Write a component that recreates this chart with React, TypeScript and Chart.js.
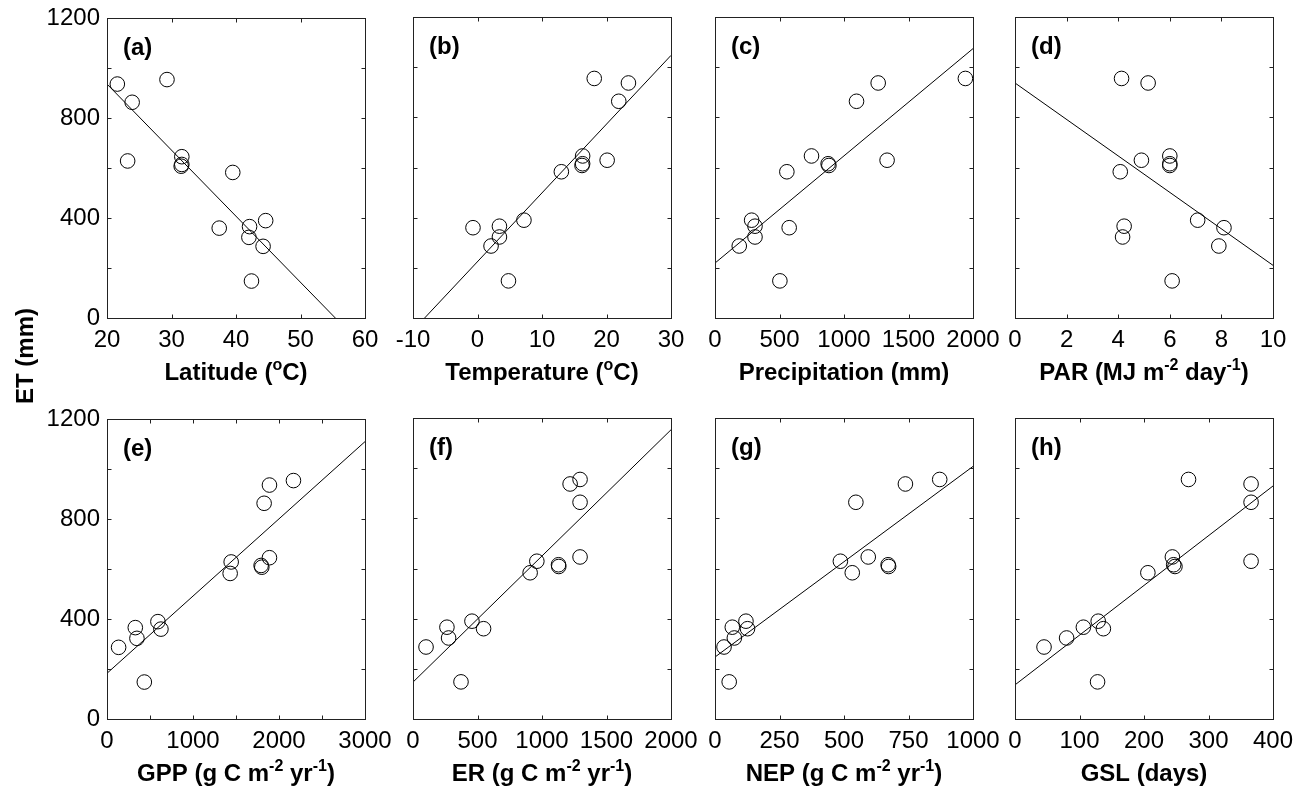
import React, { useEffect, useRef } from "react";
import { Chart, registerables } from "chart.js";

Chart.register(...registerables);

const FONT = '"Liberation Sans", Arial, Helvetica, sans-serif';
Chart.defaults.font.family = FONT;

// ---- data (one value per site; ET shared by all panels) ----
const ET = [955, 937, 864, 646, 629, 615, 608, 583, 390, 366, 360, 323, 287, 148];
const latitude = [29.3, 21.6, 23.9, 31.6, 23.2, 31.6, 31.5, 39.5, 44.6, 42.1, 37.4, 42.0, 44.2, 42.4];
const temperature = [18.1, 23.4, 21.9, 16.3, 20.1, 16.3, 16.2, 13.0, 7.2, 3.4, -0.7, 3.4, 2.1, 4.8];
const precipitation = [1941, 1265, 1097, 748, 1334, 877, 883, 557, 284, 310, 575, 310, 188, 503];
const par = [4.13, 5.16, null, 6.0, 4.9, 6.0, 6.0, 4.08, 7.08, 4.23, 8.1, 4.17, 7.9, 6.09];
const gpp = [2168, 1889, 1827, 1889, 1444, 1792, 1800, 1432, 592, 329, 627, 348, 135, 434];
const er = [1295, 1218, 1295, 1295, 960, 1128, 1130, 908, 457, 263, 547, 276, 101, 372];
const nep = [871, 738, 546, 594, 486, 671, 673, 532, 120, 67, 126, 75, 35, 55];
const gsl = [269, 366, 366, 244, 366, 246, 248, 206, 129, 106, 137, 80, 45, 128];

// regression line end points: [x0, x1], [y0, y1]
const lineLatX = [20, 55.4];
const lineLatY = [937, 0];
const lineTempX = [-8.2, 30];
const lineTempY = [0, 1047];
const linePrecX = [0, 2000];
const linePrecY = [219, 1074];
const lineParX = [0, 10];
const lineParY = [937, 210];
const lineGppX = [0, 3000];
const lineGppY = [183, 1111];
const lineErX = [0, 2000];
const lineErY = [147, 1153];
const lineNepX = [0, 1000];
const lineNepY = [247, 1007];
const lineGslX = [0, 400];
const lineGslY = [136, 929];

// axis ranges / ticks
const yMin = 0;
const yMax = 1200;
const yStep = 200;
const yLabelStep = 400;

type Seg = [string, number];

interface PanelDef {
  tag: string;
  xs: (number | null)[];
  lx: number[];
  ly: number[];
  min: number;
  max: number;
  step: number;
  labelStep: number;
  title: Seg[];
  col: number;
  row: number;
}

const panels: PanelDef[] = [
  { tag: "(a)", xs: latitude, lx: lineLatX, ly: lineLatY, min: 20, max: 60, step: 10, labelStep: 10, title: [["Latitude (", 0], ["o", 1], ["C)", 0]], col: 0, row: 0 },
  { tag: "(b)", xs: temperature, lx: lineTempX, ly: lineTempY, min: -10, max: 30, step: 10, labelStep: 10, title: [["Temperature (", 0], ["o", 1], ["C)", 0]], col: 1, row: 0 },
  { tag: "(c)", xs: precipitation, lx: linePrecX, ly: linePrecY, min: 0, max: 2000, step: 500, labelStep: 500, title: [["Precipitation (mm)", 0]], col: 2, row: 0 },
  { tag: "(d)", xs: par, lx: lineParX, ly: lineParY, min: 0, max: 10, step: 2, labelStep: 2, title: [["PAR (MJ m", 0], ["-2", 1], [" day", 0], ["-1", 1], [")", 0]], col: 3, row: 0 },
  { tag: "(e)", xs: gpp, lx: lineGppX, ly: lineGppY, min: 0, max: 3000, step: 500, labelStep: 1000, title: [["GPP (g C m", 0], ["-2", 1], [" yr", 0], ["-1", 1], [")", 0]], col: 0, row: 1 },
  { tag: "(f)", xs: er, lx: lineErX, ly: lineErY, min: 0, max: 2000, step: 500, labelStep: 500, title: [["ER (g C m", 0], ["-2", 1], [" yr", 0], ["-1", 1], [")", 0]], col: 1, row: 1 },
  { tag: "(g)", xs: nep, lx: lineNepX, ly: lineNepY, min: 0, max: 1000, step: 250, labelStep: 250, title: [["NEP (g C m", 0], ["-2", 1], [" yr", 0], ["-1", 1], [")", 0]], col: 2, row: 1 },
  { tag: "(h)", xs: gsl, lx: lineGslX, ly: lineGslY, min: 0, max: 400, step: 100, labelStep: 100, title: [["GSL (days)", 0]], col: 3, row: 1 },
];

// layout
const COL_LEFT = [107, 413, 715, 1015];
const ROW_TOP = [17, 418];
const PLOT_W = 258;
const PLOT_H = 301;
const PAD_L = 80;
const PAD_T = 20;
const PAD_R = 40;
const PAD_B = 80;
const CW = PAD_L + PLOT_W + PAD_R;
const CH = PAD_T + PLOT_H + PAD_B;

const isMultiple = (v: number, s: number) => Math.abs(v / s - Math.round(v / s)) < 1e-9;

const framePlugin = {
  id: "frame",
  afterDraw(chart: any, _args: any, opts: any) {
    const { ctx, chartArea: a, scales } = chart;
    const L = Math.round(a.left) + 0.5;
    const R = Math.round(a.right) + 0.5;
    const T = Math.round(a.top) + 0.5;
    const B = Math.round(a.bottom) + 0.5;
    ctx.save();
    ctx.strokeStyle = "#222";
    ctx.lineWidth = 1;
    ctx.strokeRect(L, T, R - L, B - T);
    const tl = 4;
    ctx.beginPath();
    for (const t of scales.x.ticks) {
      const px = Math.round(scales.x.getPixelForValue(t.value)) + 0.5;
      if (px <= L + 1 || px >= R - 1) continue;
      ctx.moveTo(px, B);
      ctx.lineTo(px, B - tl);
      ctx.moveTo(px, T);
      ctx.lineTo(px, T + tl);
    }
    for (const t of scales.y.ticks) {
      const py = Math.round(scales.y.getPixelForValue(t.value)) + 0.5;
      if (py <= T + 1 || py >= B - 1) continue;
      ctx.moveTo(L, py);
      ctx.lineTo(L + tl, py);
      ctx.moveTo(R, py);
      ctx.lineTo(R - tl, py);
    }
    ctx.stroke();

    // panel tag
    ctx.fillStyle = "#000";
    ctx.font = `bold 24px ${FONT}`;
    ctx.textAlign = "left";
    ctx.textBaseline = "alphabetic";
    ctx.fillText(opts.tag, a.left + 16, a.top + 37);

    // x title with superscripts
    const segs: Seg[] = opts.title;
    const big = `bold 24px ${FONT}`;
    const small = `bold 16px ${FONT}`;
    let total = 0;
    for (const [s, sup] of segs) {
      ctx.font = sup ? small : big;
      total += ctx.measureText(s).width;
    }
    let x = (a.left + a.right) / 2 - total / 2;
    const base = a.bottom + 62;
    for (const [s, sup] of segs) {
      ctx.font = sup ? small : big;
      ctx.fillText(s, x, sup ? base - 10 : base);
      x += ctx.measureText(s).width;
    }
    ctx.restore();
  },
};

function Panel({ p }: { p: PanelDef }) {
  const ref = useRef<HTMLCanvasElement | null>(null);
  useEffect(() => {
    if (!ref.current) return;
    const pts = p.xs
      .map((v, i) => (v == null ? null : { x: v, y: ET[i] }))
      .filter((d) => d !== null) as { x: number; y: number }[];
    const line = p.lx.map((v, i) => ({ x: v, y: p.ly[i] }));
    const isLeft = p.col === 0;
    const chart = new Chart(ref.current, {
      type: "scatter",
      data: {
        datasets: [
          {
            data: line,
            showLine: true,
            borderColor: "#000",
            borderWidth: 1,
            pointRadius: 0,
            pointHoverRadius: 0,
            fill: false,
          } as any,
          {
            data: pts,
            pointStyle: "circle",
            pointRadius: 7.3,
            pointHoverRadius: 7.3,
            borderColor: "#000",
            borderWidth: 1,
            backgroundColor: "rgba(0,0,0,0)",
          } as any,
        ],
      },
      options: {
        responsive: false,
        animation: false,
        devicePixelRatio: 1,
        events: [],
        layout: { padding: { left: 0, top: PAD_T, right: PAD_R, bottom: 0 } },
        plugins: {
          legend: { display: false },
          tooltip: { enabled: false },
          frame: { tag: p.tag, title: p.title },
        } as any,
        scales: {
          x: {
            type: "linear",
            position: "bottom",
            min: p.min,
            max: p.max,
            grid: { display: false, drawTicks: false },
            border: { display: false },
            ticks: {
              stepSize: p.step,
              autoSkip: false,
              maxRotation: 0,
              minRotation: 0,
              padding: 8,
              color: "#000",
              font: { size: 24, family: FONT },
              callback: (v: any) => (isMultiple(Number(v), p.labelStep) ? String(v) : ""),
            },
            afterFit: (s: any) => {
              s.height = PAD_B;
            },
          },
          y: {
            type: "linear",
            position: "left",
            min: yMin,
            max: yMax,
            grid: { display: false, drawTicks: false },
            border: { display: false },
            ticks: {
              display: isLeft,
              stepSize: yStep,
              autoSkip: false,
              padding: 7,
              color: "#000",
              font: { size: 24, family: FONT },
              callback: (v: any) => (isMultiple(Number(v), yLabelStep) ? String(v) : ""),
            },
            afterFit: (s: any) => {
              s.width = PAD_L;
            },
          },
        },
      },
      plugins: [framePlugin],
    } as any);
    return () => chart.destroy();
  }, [p]);
  const left = COL_LEFT[p.col] - PAD_L;
  const top = ROW_TOP[p.row] - PAD_T;
  return (
    <canvas
      ref={ref}
      width={CW}
      height={CH}
      style={{ position: "absolute", left, top, width: CW, height: CH }}
    />
  );
}

export default function App() {
  return (
    <div style={{ position: "absolute", left: 0, top: 0, width: 1304, height: 795, background: "#fff", overflow: "hidden" }}>
      {panels.map((p) => (
        <Panel key={p.tag} p={p} />
      ))}
      <div
        style={{
          position: "absolute",
          left: 25,
          top: 356,
          transform: "translate(-50%, -50%) rotate(-90deg)",
          font: `bold 24px ${FONT}`,
          whiteSpace: "nowrap",
          color: "#000",
        }}
      >
        ET (mm)
      </div>
    </div>
  );
}
